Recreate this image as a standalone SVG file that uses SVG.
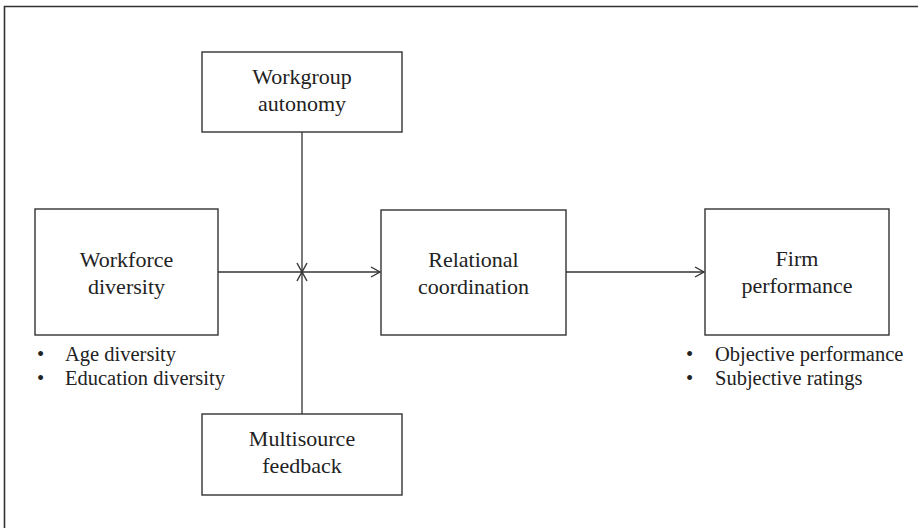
<svg xmlns="http://www.w3.org/2000/svg" width="918" height="528" viewBox="0 0 918 528">
<style>
.box{fill:#fff;stroke:#333;stroke-width:1.4}
.lbl{font-family:"Liberation Serif","Times New Roman",serif;font-size:22px;fill:#222;text-anchor:middle}
.bul{font-family:"Liberation Serif","Times New Roman",serif;font-size:20.5px;fill:#222}
.conn{stroke:#333;stroke-width:1.3;fill:none}
</style>
<defs>
<marker id="arr" markerUnits="userSpaceOnUse" markerWidth="14" markerHeight="14" refX="10" refY="6" orient="auto">
<path d="M1,1 L10,6 L1,11" fill="none" stroke="#333" stroke-width="1.4"/>
</marker>
</defs>
<rect x="0" y="0" width="918" height="528" fill="#fff"/>
<path d="M4.5,528 V6.5 H918" fill="none" stroke="#333" stroke-width="1.6"/>
<g id="connectors">
<line class="conn" x1="218" y1="272" x2="380" y2="272" marker-end="url(#arr)"/>
<line class="conn" x1="566" y1="272" x2="704" y2="272" marker-end="url(#arr)"/>
<line class="conn" x1="302" y1="132" x2="302" y2="272" marker-end="url(#arr)"/>
<line class="conn" x1="302" y1="414" x2="302" y2="272" marker-end="url(#arr)"/>
</g>
<g id="workgroup-autonomy">
<rect class="box" x="202" y="52" width="200" height="80"/>
<text class="lbl" x="302" y="84">Workgroup</text>
<text class="lbl" x="302" y="111">autonomy</text>
</g>
<g id="workforce-diversity">
<rect class="box" x="35" y="209" width="183" height="126"/>
<text class="lbl" x="126.5" y="267">Workforce</text>
<text class="lbl" x="126.5" y="294">diversity</text>
</g>
<g id="relational-coordination">
<rect class="box" x="381" y="210" width="185" height="125"/>
<text class="lbl" x="473.5" y="267">Relational</text>
<text class="lbl" x="473.5" y="294">coordination</text>
</g>
<g id="firm-performance">
<rect class="box" x="705" y="209" width="184" height="126"/>
<text class="lbl" x="797" y="266">Firm</text>
<text class="lbl" x="797" y="293">performance</text>
</g>
<g id="multisource-feedback">
<rect class="box" x="202" y="414" width="200" height="81"/>
<text class="lbl" x="302" y="446">Multisource</text>
<text class="lbl" x="302" y="473">feedback</text>
</g>
<g id="diversity-bullets">
<text class="bul" x="37" y="361">•</text>
<text class="bul" x="65" y="361">Age diversity</text>
<text class="bul" x="37" y="385">•</text>
<text class="bul" x="65" y="385">Education diversity</text>
</g>
<g id="performance-bullets">
<text class="bul" x="686" y="361">•</text>
<text class="bul" x="715" y="361">Objective performance</text>
<text class="bul" x="686" y="385">•</text>
<text class="bul" x="715" y="385">Subjective ratings</text>
</g>
</svg>
